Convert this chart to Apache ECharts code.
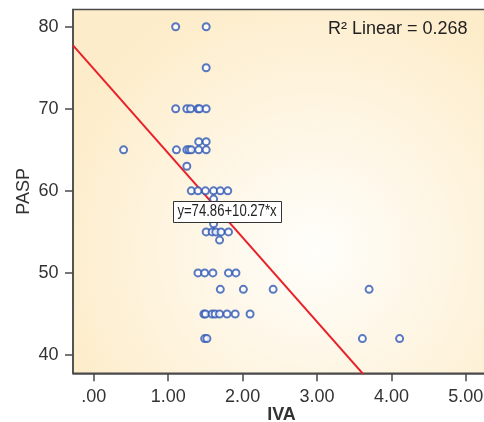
<!DOCTYPE html>
<html>
<head>
<meta charset="utf-8">
<script src="https://cdn.jsdelivr.net/npm/echarts@6/dist/echarts.min.js"></script>
<style>
html,body{margin:0;padding:0;background:#fff;}
#chart{width:484px;height:422px;}
</style>
</head>
<body>
<div id="chart"></div>
<script>
// Data
const ivaValues = [
  1.10, 1.51,
  1.51,
  1.10, 1.25, 1.30, 1.40, 1.42, 1.51,
  1.41, 1.51,
  0.40, 1.11, 1.25, 1.28, 1.31, 1.41, 1.51,
  1.25,
  1.31, 1.40, 1.50, 1.61, 1.70, 1.80,
  1.61,
  1.61,
  1.51, 1.59, 1.64, 1.71, 1.81,
  1.69,
  1.40, 1.49, 1.60, 1.81, 1.91,
  1.70, 2.01, 2.41, 3.70,
  1.48, 1.50, 1.59, 1.63, 1.69, 1.79, 1.90, 2.10,
  1.49, 1.52, 3.61, 4.11
];
const paspValues = [
  80, 80,
  75,
  70, 70, 70, 70, 70, 70,
  66, 66,
  65, 65, 65, 65, 65, 65, 65,
  63,
  60, 60, 60, 60, 60, 60,
  59,
  56,
  55, 55, 55, 55, 55,
  54,
  50, 50, 50, 50, 50,
  48, 48, 48, 48,
  45, 45, 45, 45, 45, 45, 45, 45,
  42, 42, 42, 42
];
const xTicks = [0, 1, 2, 3, 4, 5];
const yTicks = [40, 50, 60, 70, 80];
const fitIntercept = 74.86;
const fitSlope = -10.27;
const fitLabel = 'y=74.86+10.27*x';
const r2Label = 'R\u00B2 Linear = 0.268';

const xMin = -0.28, xMax = 5.325;
const yMin = 37.77, yMax = 82.10;

const points = ivaValues.map((v, i) => [v, paspValues[i]]);
const fitLine = [[xMin, fitIntercept + fitSlope * xMin], [xMax, fitIntercept + fitSlope * xMax]];

const chart = echarts.init(document.getElementById('chart'), null, {renderer: 'canvas'});
const font = '"Liberation Sans", Arial, sans-serif';
chart.setOption({
  animation: false,
  grid: {
    left: 73, top: 9.5, right: -6, bottom: 48.7,
    containLabel: false,
    outerBoundsMode: 'none',
    show: true,
    borderColor: '#4a4a4a',
    borderWidth: 1.5,
    backgroundColor: {
      type: 'radial', x: 0.58, y: 0.66, r: 0.75,
      colorStops: [
        {offset: 0, color: '#fffefb'},
        {offset: 1, color: '#fdecc9'}
      ]
    }
  },
  xAxis: {
    type: 'value', min: xMin, max: xMax,
    name: 'IVA', nameLocation: 'middle', nameGap: 33, nameMoveOverlap: false,
    nameTextStyle: {fontFamily: font, fontSize: 18, fontWeight: 'bold', color: '#333'},
    splitLine: {show: false},
    axisLine: {show: true, onZero: false, lineStyle: {color: '#4a4a4a', width: 1.5}},
    axisTick: {show: true, length: 8, lineStyle: {color: '#4a4a4a', width: 1.5}, customValues: xTicks},
    axisLabel: {
      customValues: xTicks, margin: 15, fontFamily: font, fontSize: 18, color: '#333',
      formatter: v => v.toFixed(2).replace(/^0\./, '.')
    }
  },
  yAxis: {
    type: 'value', min: yMin, max: yMax,
    name: 'PASP', nameLocation: 'middle', nameGap: 40, nameMoveOverlap: false,
    nameTextStyle: {fontFamily: font, fontSize: 18, color: '#333'},
    splitLine: {show: false},
    axisLine: {show: true, onZero: false, lineStyle: {color: '#4a4a4a', width: 1.5}},
    axisTick: {show: true, length: 8, lineStyle: {color: '#4a4a4a', width: 1.5}, customValues: yTicks},
    axisLabel: {customValues: yTicks, margin: 14.5, fontFamily: font, fontSize: 18, color: '#333'}
  },
  series: [
    {
      type: 'line', data: fitLine, symbol: 'none', clip: true, z: 2,
      lineStyle: {color: '#e8202a', width: 2}
    },
    {
      type: 'scatter', data: points, symbol: 'emptyCircle', symbolSize: 7, z: 3,
      itemStyle: {color: '#2f58b4', borderWidth: 1.2}
    }
  ],
  graphic: [
    {
      type: 'text', left: 328, top: 20, z: 100,
      style: {text: r2Label, font: '18px ' + font, fill: '#222'}
    },
    {
      type: 'rect', left: 173, top: 201, z: 100,
      shape: {x: 0, y: 0, width: 108, height: 21},
      style: {fill: '#ffffff', stroke: '#333', lineWidth: 1}
    },
    {
      type: 'text', x: 227, y: 212, z: 101, scaleX: 0.82,
      style: {text: fitLabel, font: '16px ' + font,
              fill: '#222', align: 'center', verticalAlign: 'middle'}
    }
  ]
});
</script>
</body>
</html>
